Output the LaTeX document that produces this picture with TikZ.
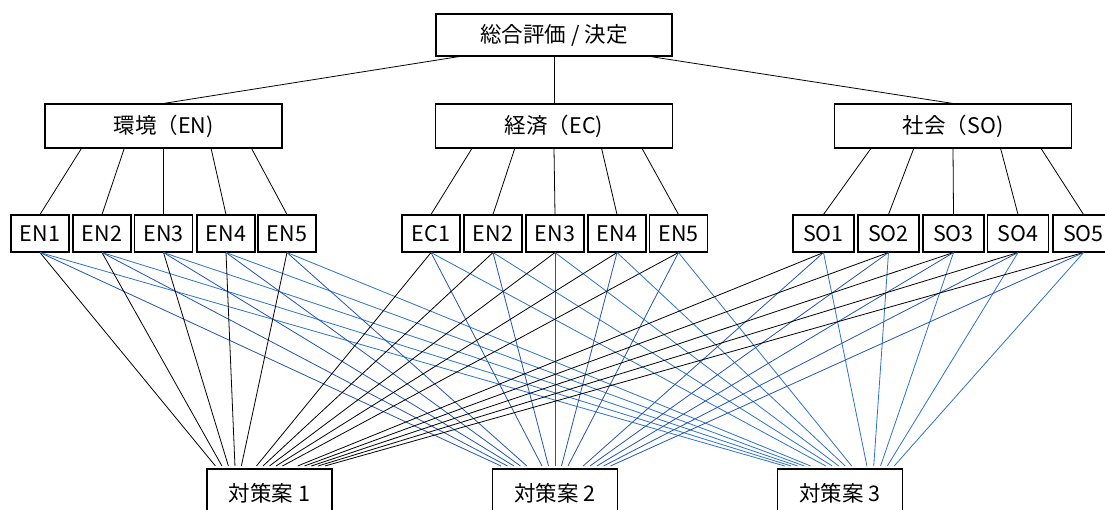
\documentclass[tikz,border=0pt]{standalone}
\usepackage{fontspec}
\setmainfont{Noto Sans CJK JP}
\usetikzlibrary{calc}
\definecolor{blueA}{RGB}{35,85,180}
\definecolor{blueB}{RGB}{45,115,200}
\begin{document}
\begin{tikzpicture}[x=1pt,y=-1pt,
  boxbase/.style={draw,line width=1.1pt,inner sep=0pt,font=\fontsize{21.5}{24}\selectfont},
  topbox/.style={boxbase,minimum width=236pt,minimum height=42pt},
  midbox/.style={boxbase,minimum width=237pt,minimum height=44pt},
  leafbox/.style={boxbase,minimum width=58pt,minimum height=37pt},
  leafboxw/.style={boxbase,minimum width=61pt,minimum height=37pt},
  optbox/.style={boxbase,minimum width=125pt,minimum height=48pt},
  conn/.style={line width=0.8pt,black},
  connA/.style={line width=0.8pt,blueA},
  connB/.style={line width=0.8pt,blueB}]
\clip (0,0) rectangle (1105,509);
\fill[white] (0,0) rectangle (1105,509);
% top
\node[topbox] (T) at (554,35) {総合評価 / 決定};
% middle
\node[midbox] (EN) at (163.5,126) {環境（EN)};
\node[midbox] (EC) at (554,126) {経済（EC)};
\node[midbox] (SO) at (953,126) {社会（SO)};
% leaves
\foreach \n/\x/\t in {en1/40/EN1,en2/102/EN2,en3/163.5/EN3,en4/226/EN4,en5/287/EN5,
                      ec1/431/EC1,ec2/493/EN2,ec3/555/EN3,ec4/617/EN4,ec5/678.5/EN5}
  \node[leafbox] (\n) at (\x,233.5) {\t};
\foreach \n/\x/\t in {so1/823.5/SO1,so2/888.5/SO2,so3/953.5/SO3,so4/1018/SO4,so5/1083.5/SO5}
  \node[leafboxw] (\n) at (\x,233.5) {\t};
% options
\node[optbox] (o1) at (269.5,493) {対策案 1};
\node[optbox] (o2) at (555,493) {対策案 2};
\node[optbox] (o3) at (840,493) {対策案 3};
\coordinate (p1) at (236,491);
\coordinate (p2) at (555,491);
\coordinate (p3) at (872,491);
% top to middle
\draw[conn] ($(T.south west)!0.10!(T.south east)$) -- (EN.north);
\draw[conn] (T.south) -- (EC.north);
\draw[conn] ($(T.south west)!0.907!(T.south east)$) -- (SO.north);
% middle to leaves
\foreach \g in {en,ec,so}{
  \foreach \i/\f in {1/0.155,2/0.335,3/0.5,4/0.70,5/0.87}{
    \ifnum\pdfstrcmp{\g}{en}=0 \def\P{EN}\fi
    \ifnum\pdfstrcmp{\g}{ec}=0 \def\P{EC}\fi
    \ifnum\pdfstrcmp{\g}{so}=0 \def\P{SO}\fi
    \draw[conn] ($(\P.south west)!\f!(\P.south east)$) -- (\g\i.north);
  }
}
% leaves to options
\foreach \l in {en1,en2,en3,en4,en5,ec1,ec2,ec3,ec4,ec5,so1,so2,so3,so4,so5}{
  \draw[conn] (\l.south) -- ($(\l.south)!0.895!(p1)$);
  \draw[connA] (\l.south) -- ($(\l.south)!0.895!(p2)$);
  \draw[connB] (\l.south) -- ($(\l.south)!0.895!(p3)$);
}
\end{tikzpicture}
\end{document}
